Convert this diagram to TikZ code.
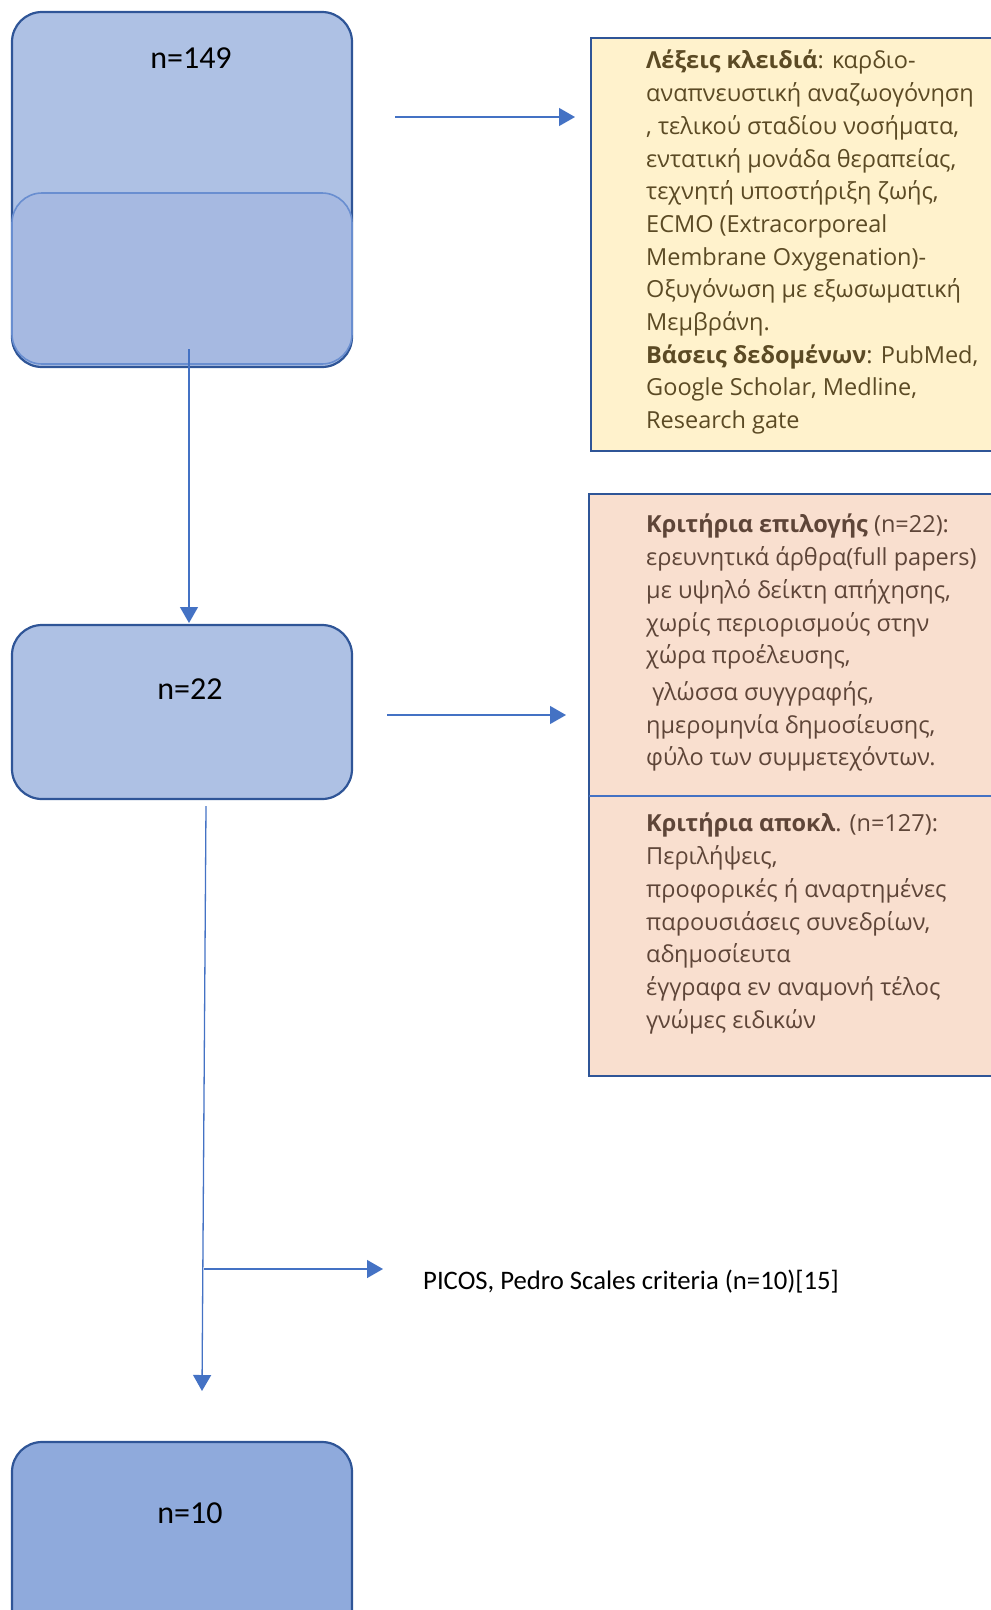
\documentclass[tikz,border=0pt]{standalone}
\usepackage{fontspec}
\setmainfont{Open Sans}
\newfontfamily\calfont{Carlito}
\usetikzlibrary{arrows.meta}
\definecolor{boxfill}{HTML}{AEC1E4}
\definecolor{boxfillb}{HTML}{A6B9E1}
\definecolor{boxfillc}{HTML}{8FAADC}
\definecolor{boxline}{HTML}{2F5597}
\definecolor{connc}{HTML}{4472C4}
\definecolor{yfill}{HTML}{FFF2CC}
\definecolor{pfill}{HTML}{F9DFCF}
\definecolor{ytext}{HTML}{5B4A24}
\definecolor{ptext}{HTML}{5E4538}
\tikzset{
  flowbox/.style={draw=boxline, line width=2.2pt, rounded corners=30pt, fill=boxfill, inner sep=0pt, minimum width=340pt},
  numtext/.style={font=\calfont\fontsize{32}{38}\selectfont, inner sep=0pt, text=black},
  infobox/.style={draw=boxline, line width=2.2pt, inner sep=0pt},
  infotext/.style={font=\fontsize{23.5}{32.7}\selectfont, align=left, inner sep=0pt, anchor=north west},
  conn/.style={draw=connc, line width=1.3pt, -{Triangle[width=18pt,length=16pt]}}
}
\begin{document}
\begin{tikzpicture}[x=1pt,y=-1pt]
\useasboundingbox (0,0) rectangle (991,1610);
% box 1
\node[flowbox, minimum height=355pt] (b1) at (182,189.5) {};
\node[flowbox, fill=boxfillb, draw=connc!80, line width=1.6pt, minimum height=171pt] (b1in) at (182,278.5) {};
\node[numtext] (t1) at (191,58) {n=149};
% box 2
\node[flowbox, minimum height=174pt] (b2) at (182,712) {};
\node[numtext] (t2) at (190,689) {n=22};
% box 3
\node[flowbox, fill=boxfillc, minimum height=218pt] (b3) at (182,1551) {};
\node[numtext] (t3) at (190,1513) {n=10};
% keyword box
\node[infobox, fill=yfill, minimum width=419pt, minimum height=413pt] (kw) at (800.5,244.5) {};
\node[infotext, text=ytext] (kwt) at (646,50) {\textbf{Λέξεις κλειδιά}: καρδιο-\\
αναπνευστική αναζωογόνηση\\
, τελικού σταδίου νοσήματα,\\
εντατική μονάδα θεραπείας,\\
τεχνητή υποστήριξη ζωής,\\
ECMO (Extracorporeal\\
Membrane Oxygenation)-\\
Οξυγόνωση με εξωσωματική\\
Μεμβράνη.\\
\textbf{Βάσεις δεδομένων}: PubMed,\\
Google Scholar, Medline,\\
Research gate};
% criteria box
\node[infobox, fill=pfill, minimum width=421pt, minimum height=582pt] (cr) at (799.5,785) {};
\coordinate (dl) at (589,796);
\coordinate (dr) at (1010,796);
\draw[connc, line width=1.2pt] (dl) -- (dr);
\node[infotext, text=ptext] (crt1) at (646,514) {\textbf{Κριτήρια επιλογής} (n=22):\\
ερευνητικά άρθρα(full papers)\\
με υψηλό δείκτη απήχησης,\\
χωρίς περιορισμούς στην\\
χώρα προέλευσης,\\[4pt]
\ γλώσσα συγγραφής,\\
ημερομηνία δημοσίευσης,\\
φύλο των συμμετεχόντων.};
\node[infotext, text=ptext] (crt2) at (646,813) {\textbf{Κριτήρια αποκλ}. (n=127):\\
Περιλήψεις,\\
προφορικές ή αναρτημένες\\
παρουσιάσεις συνεδρίων,\\
αδημοσίευτα\\
έγγραφα εν αναμονή τέλος\\
γνώμες ειδικών};
% PICOS
\node[font=\calfont\fontsize{26.7}{32}\selectfont, anchor=west, inner sep=0pt] (picos) at (423,1282) {PICOS, Pedro Scales criteria (n=10)[15]};
% connectors
\coordinate (a1s) at (395,117);
\coordinate (a1e) at (575,117);
\draw[conn] (a1s) -- (a1e);
\coordinate (v1s) at (189,349);
\coordinate (v1e) at (189,623);
\draw[conn] (v1s) -- (v1e);
\coordinate (a2s) at (387,715);
\coordinate (a2e) at (566,715);
\draw[conn] (a2s) -- (a2e);
\coordinate (v2s) at (206,806);
\coordinate (v2e) at (202,1391);
\draw[conn] (v2s) -- (v2e);
\coordinate (brs) at (204,1269);
\coordinate (bre) at (383,1269);
\draw[conn] (brs) -- (bre);
\end{tikzpicture}
\end{document}
